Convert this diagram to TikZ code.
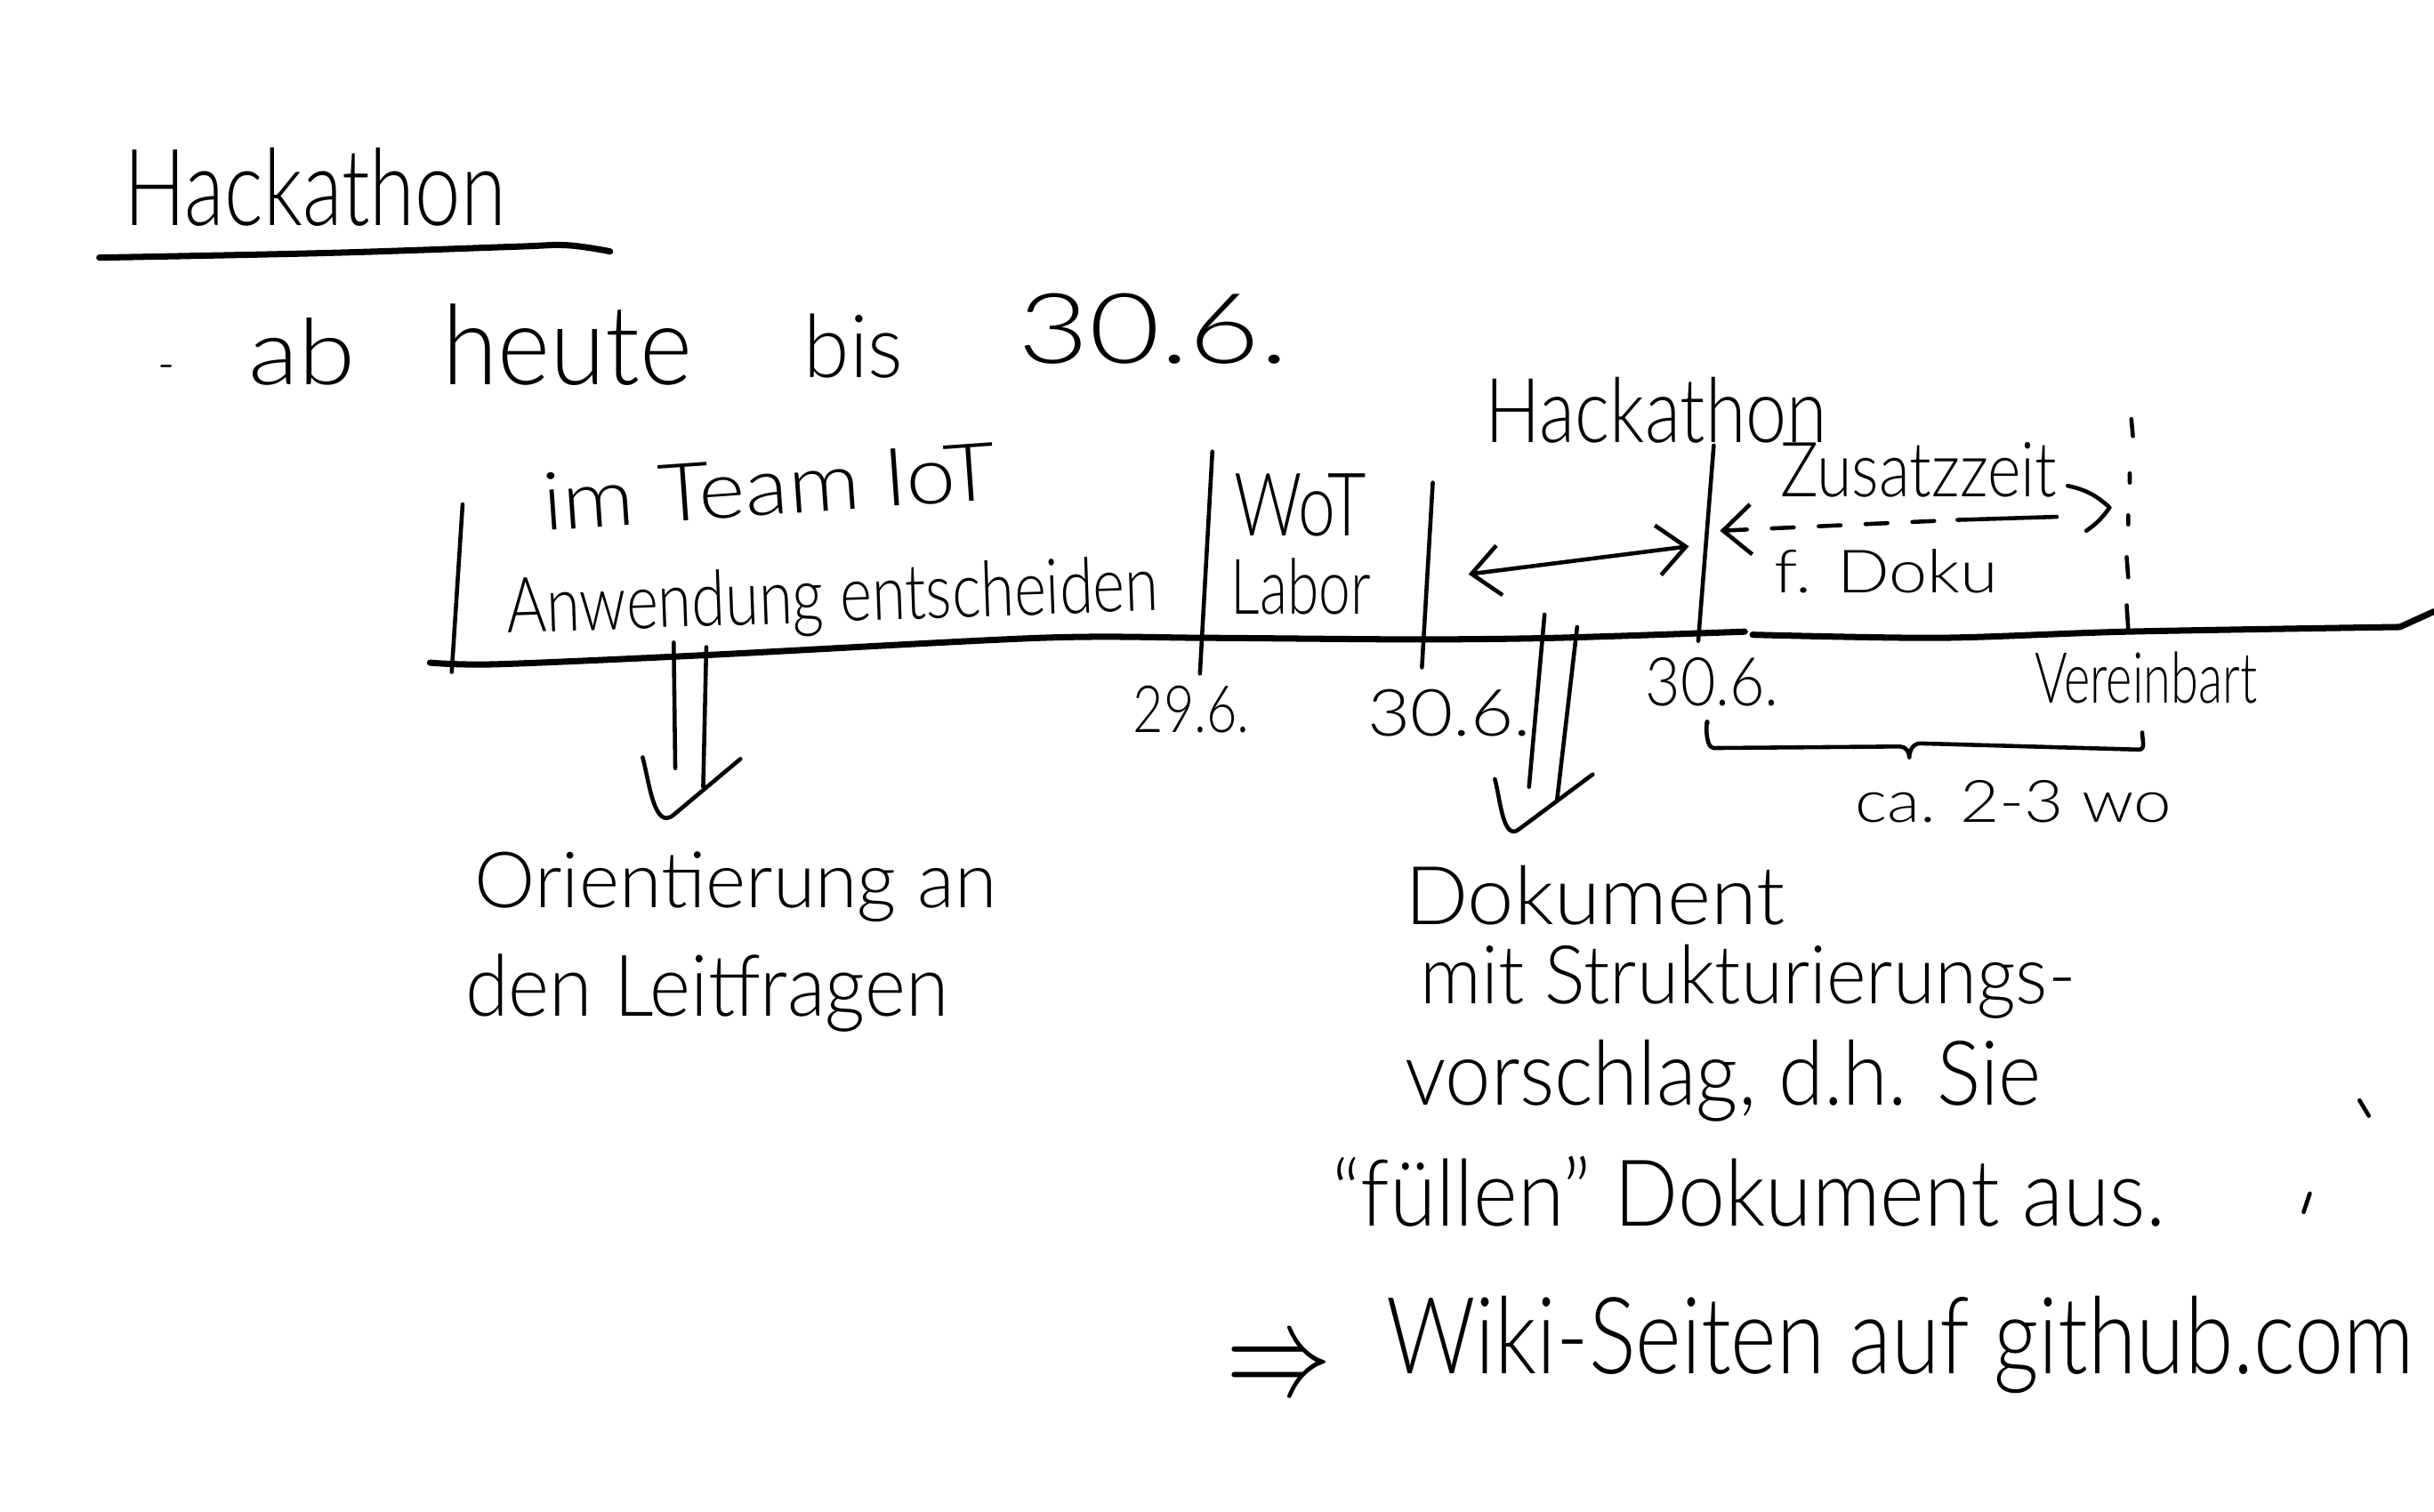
\documentclass[tikz,border=0pt]{standalone}
\usepackage{fontspec}
\setmainfont{Lato Light}
\usepackage{graphicx}
\usetikzlibrary{arrows.meta}
% one drawing unit of the sketch
\newlength\px
\setlength\px{0.01745cm}
% text squeezed into a given width and height (in drawing units)
\newcommand\hwtext[3]{\resizebox{#1\px}{#2\px}{#3}}
\tikzset{barb/.tip={Straight Barb[length=9pt, width=16pt, line width=1.3pt]}}
\begin{document}
\begin{tikzpicture}[x=0.01745cm, y=-0.01745cm,
  ink/.style={line width=1.3pt, line cap=round, line join=round},
  heavy/.style={line width=2pt, line cap=round, line join=round},
  txt/.style={anchor=base west, inner sep=0pt, outer sep=0pt},
  sparse/.style={dash pattern=on 7pt off 8pt}]

\fill[white] (0,0) rectangle (1568,974);
\useasboundingbox (0,0) rectangle (1568,974);

% heading with its underline
\node[txt] (title) at (80,145) {\hwtext{246}{50}{Hackathon}};
\draw[heavy] plot[smooth, tension=0.6] coordinates {(64,166) (211,163) (330,159) (365,158) (393,162)};

% first bullet line
\node[txt] (dash) at (102,247) {\hwtext{11}{12}{-}};
\node[txt] (ab) at (160,248) {\hwtext{69}{43}{ab}};
\node[txt] (heute) at (285,248) {\hwtext{161}{52}{heute}};
\node[txt] (bis) at (518,243) {\hwtext{64}{41}{bis}};
\node[txt] (until) at (656,234) {\hwtext{174}{45}{30.6.}};

% time line
\draw[heavy] plot[smooth, tension=0.5] coordinates {(277,427) (320,428) (457,422) (671,411) (776,411) (911,412) (1003,411) (1124,407)};
\draw[heavy] plot[smooth, tension=0.5] coordinates {(1129,409) (1249,411) (1370,407) (1546,404)} -- (1568,394);

% phase separators
\coordinate (b1t) at (298,325); \coordinate (b1b) at (291,433);
\coordinate (b2t) at (781,291); \coordinate (b2b) at (773,434);
\coordinate (b3t) at (923,311); \coordinate (b3b) at (916,430);
\coordinate (b4t) at (1104,287); \coordinate (b4b) at (1094,413);
\draw[ink] (b1t) -- (b1b);
\draw[ink] (b2t) -- (b2b);
\draw[ink] (b3t) -- (b3b);
\draw[ink] (b4t) -- (b4b);

% phase texts
\node[txt, rotate=4] (team) at (351,342) {\hwtext{292}{37}{im Team IoT}};
\node[txt, rotate=2] (decide) at (327,408) {\hwtext{420}{36}{Anwendung entscheiden}};
\node[txt] (wot) at (795,345) {\hwtext{85}{40}{WoT}};
\node[txt] (labor) at (793,396) {\hwtext{90}{36}{Labor}};
\node[txt] (hack) at (957,285) {\hwtext{220}{42}{Hackathon}};
\node[txt] (extra) at (1147,320) {\hwtext{178}{35}{Zusatzzeit}};
\node[txt] (doku) at (1143,382) {\hwtext{144}{28}{f. Doku}};

% hackathon span
\coordinate (hl) at (946,370); \coordinate (hr) at (1088,352);
\draw[ink, barb-barb] (hl) -- (hr);

% extra time span
\coordinate (zl) at (1108,342); \coordinate (zm) at (1261,335);
\coordinate (zr) at (1325,333);
\coordinate (zh1) at (1332,313); \coordinate (zh2) at (1359,327); \coordinate (zh3) at (1344,342);
\draw[ink, sparse, barb-] (zl) -- (zm);
\draw[ink] (zm) -- (zr);
\draw[ink] (zh1) to[bend left=15] (zh2) to[bend left=10] (zh3);

% agreed end, broken line
\draw[ink] (1373,270) -- (1374,281) (1372,305) -- (1372,311) (1371,332) -- (1371,338)
  (1370,359) -- (1371,372) (1370,390) -- (1371,405);

% dates under the line
\node[txt] (d296) at (730,472) {\hwtext{75}{30}{29.6.}};
\node[txt] (d306a) at (881,474) {\hwtext{105}{30}{30.6.}};
\node[txt] (d306b) at (1060,455) {\hwtext{86}{31}{30.6.}};
\node[txt] (agreed) at (1311,453) {\hwtext{143}{33}{Vereinbart}};

% brace with duration
\coordinate (br1) at (1100,466); \coordinate (br2) at (1104,482);
\coordinate (br3) at (1224,481); \coordinate (br4) at (1230,488);
\coordinate (br5) at (1237,479); \coordinate (br6) at (1378,483);
\coordinate (br7) at (1380,472);
\draw[ink] (br1) to[out=95, in=180] (br2) -- (br3) to[out=0, in=90] (br4)
  to[out=90, in=180] (br5) -- (br6) to[out=0, in=-90] (br7);
\node[txt] (weeks) at (1195,530) {\hwtext{204}{27}{ca. 2-3 wo}};

% first consequence
\coordinate (la1) at (434,414); \coordinate (la2) at (435,495);
\coordinate (lb1) at (455,417); \coordinate (lb2) at (453,507);
\coordinate (lh1) at (414,488); \coordinate (lh2) at (434,525); \coordinate (lh3) at (477,489);
\draw[ink] (la1) -- (la2);
\draw[ink] (lb1) -- (lb2);
\draw[ink] (lh1) to[out=-75, in=-140] (lh2) -- (lh3);
\node[txt] (orient) at (306,585) {\hwtext{336}{36}{Orientierung an}};
\node[txt] (guide) at (300,655) {\hwtext{311}{40}{den Leitfragen}};

% second consequence
\coordinate (ma1) at (995,396); \coordinate (ma2) at (985,507);
\coordinate (mb1) at (1016,404); \coordinate (mb2) at (1003,516);
\coordinate (mh1) at (963,502); \coordinate (mh2) at (979,534); \coordinate (mh3) at (1026,499);
\draw[ink] (ma1) -- (ma2);
\draw[ink] (mb1) -- (mb2);
\draw[ink] (mh1) to[out=-75, in=-140] (mh2) -- (mh3);
\node[txt] (doc1) at (905,596) {\hwtext{245}{38}{Dokument}};
\node[txt] (doc2) at (915,647) {\hwtext{422}{38}{mit Strukturierungs-}};
\node[txt] (doc3) at (905,712) {\hwtext{410}{42}{vorschlag, d.h. Sie}};
\node[txt] (doc4) at (858,790) {\hwtext{537}{45}{“füllen” Dokument aus.}};
\node[txt] (imp) at (790,899) {\hwtext{68}{31}{$\Rightarrow$}};
\node[txt] (wiki) at (893,885) {\hwtext{662}{50}{Wiki-Seiten auf github.com}};

% stray pen marks
\draw[ink] (1520,709) -- (1526,719);
\draw[ink] (1488,769) -- (1484,781);
\end{tikzpicture}
\end{document}
